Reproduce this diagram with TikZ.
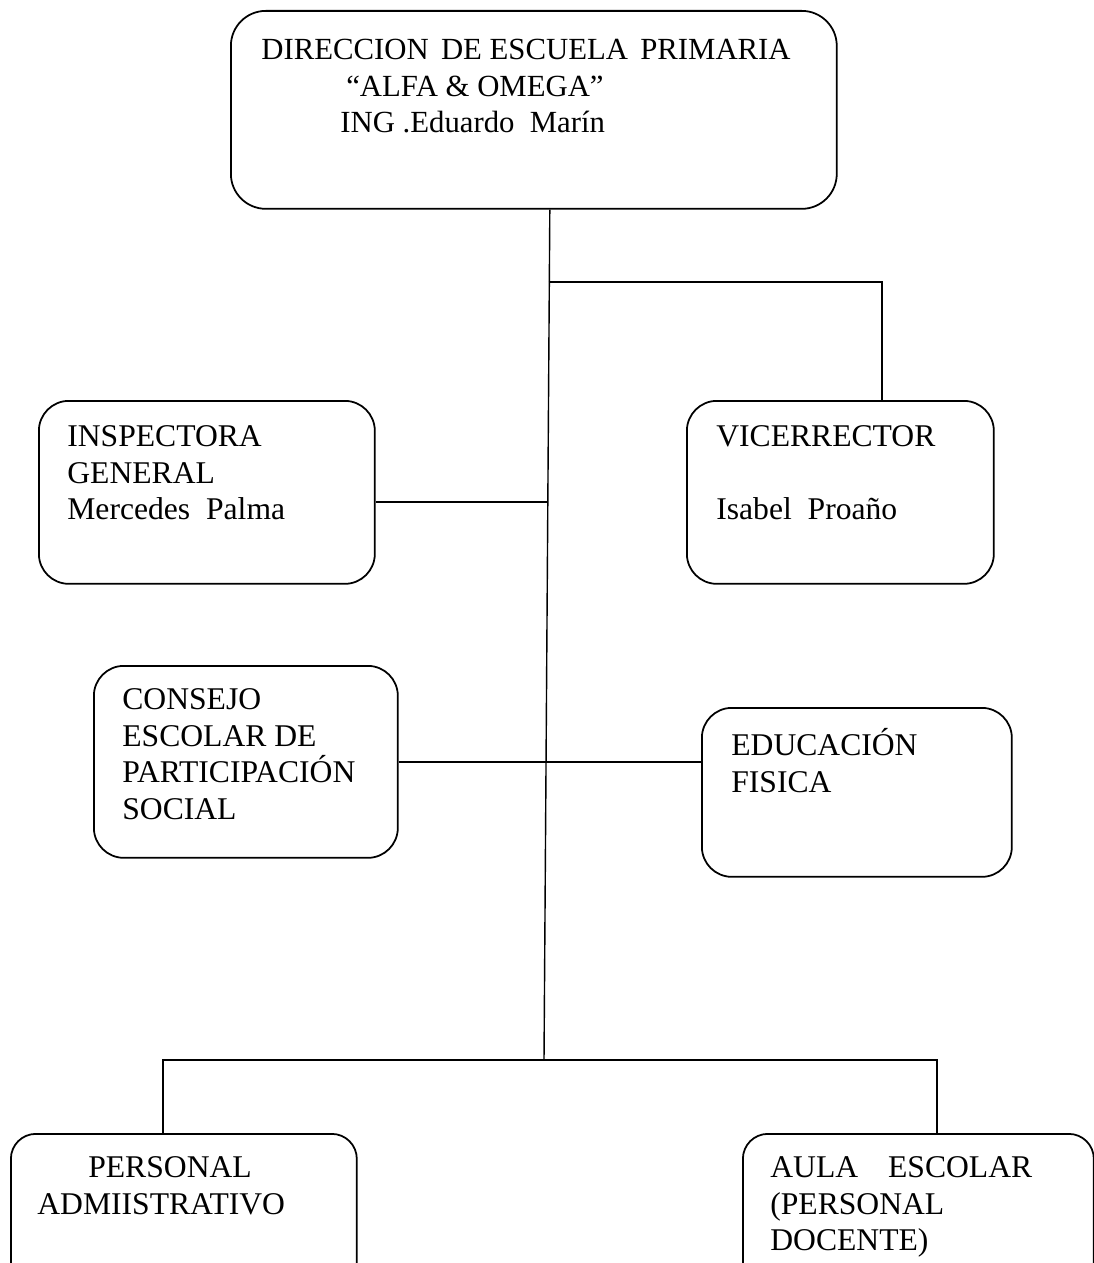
\documentclass[tikz,border=0pt]{standalone}
\usepackage{fontspec}
\setmainfont{Liberation Serif}
\usetikzlibrary{positioning}

\tikzset{
  orgbox/.style={draw, line width=1pt, rounded corners=0.6cm, anchor=north west, inner sep=0pt},
  orgtext/.style={font=\fontsize{18}{21}\selectfont, align=left, inner sep=0pt},
  orgline/.style={line width=0.8pt}
}

\begin{document}
\begin{tikzpicture}[x=0.02cm,y=-0.02cm]
  \useasboundingbox (0,0) rectangle (1094,1263);
  \clip (0,0) rectangle (1094,1263);

  % boxes
  \node[orgbox, rounded corners=0.7cm, minimum width=12.12cm, minimum height=3.96cm] (dir) at (230,10) {};
  \node[orgbox, minimum width=6.72cm, minimum height=3.66cm] (insp) at (38,400) {};
  \node[orgbox, minimum width=6.14cm, minimum height=3.66cm] (vice) at (686,400) {};
  \node[orgbox, minimum width=6.08cm, minimum height=3.84cm] (cons) at (93,665) {};
  \node[orgbox, minimum width=6.20cm, minimum height=3.38cm] (edu) at (701,707) {};
  \node[orgbox, rounded corners=0.5cm, minimum width=6.92cm, minimum height=3.4cm] (pers) at (10,1133) {};
  \node[orgbox, rounded corners=0.5cm, minimum width=7.02cm, minimum height=3.4cm] (aula) at (742,1133) {};

  % texts
  \node[orgtext, font=\fontsize{17.5}{21}\selectfont, below right=0.46cm and 0.62cm of dir.north west] (dir-t)
    {\strut DIRECCION\hspace{0.4em}DE ESCUELA\hspace{0.4em}PRIMARIA\\
     \hspace*{1.7cm}“ALFA \& OMEGA”\\
     \hspace*{1.58cm}ING .Eduardo\ \ Marín};
  \node[orgtext, below right=0.40cm and 0.58cm of insp.north west] (insp-t)
    {\strut INSPECTORA\\ GENERAL\\ Mercedes\ \ Palma};
  \node[orgtext, below right=0.40cm and 0.60cm of vice.north west] (vice-t)
    {\strut VICERRECTOR\\[21pt] Isabel\ \ Proaño};
  \node[orgtext, below right=0.36cm and 0.58cm of cons.north west] (cons-t)
    {\strut CONSEJO\\ ESCOLAR\ DE\\ PARTICIPACIÓN\\ SOCIAL};
  \node[orgtext, below right=0.42cm and 0.60cm of edu.north west] (edu-t)
    {\strut EDUCACIÓN\\ FISICA};
  \node[orgtext, below right=0.36cm and 0.54cm of pers.north west] (pers-t)
    {\strut \hspace*{1.02cm}PERSONAL\\ ADMIISTRATIVO};
  \node[orgtext, below right=0.36cm and 0.56cm of aula.north west] (aula-t)
    {\strut AULA\hspace{0.6cm}ESCOLAR\\ (PERSONAL\\ DOCENTE)};

  % connectors
  \coordinate (jtop) at ([xshift=0.32cm]dir.south);
  \coordinate (jvice) at (548.5,282);
  \coordinate (jinsp) at (547,502);
  \coordinate (jbus) at (544,1060);
  \coordinate (vicetop) at ([xshift=0.83cm]vice.north);
  \coordinate (busL) at (163,1060);
  \coordinate (busR) at (937,1060);

  \draw[orgline] (jtop) -- (jbus);
  \draw[orgline] (jvice) -| (vicetop);
  \draw[orgline] (jinsp) -- (jinsp -| insp.east);
  \draw[orgline] (cons.east) -- (edu.west |- cons.east);
  \draw[orgline] (busL |- pers.north) -- (busL) -- (busR) -- (busR |- aula.north);
\end{tikzpicture}
\end{document}
